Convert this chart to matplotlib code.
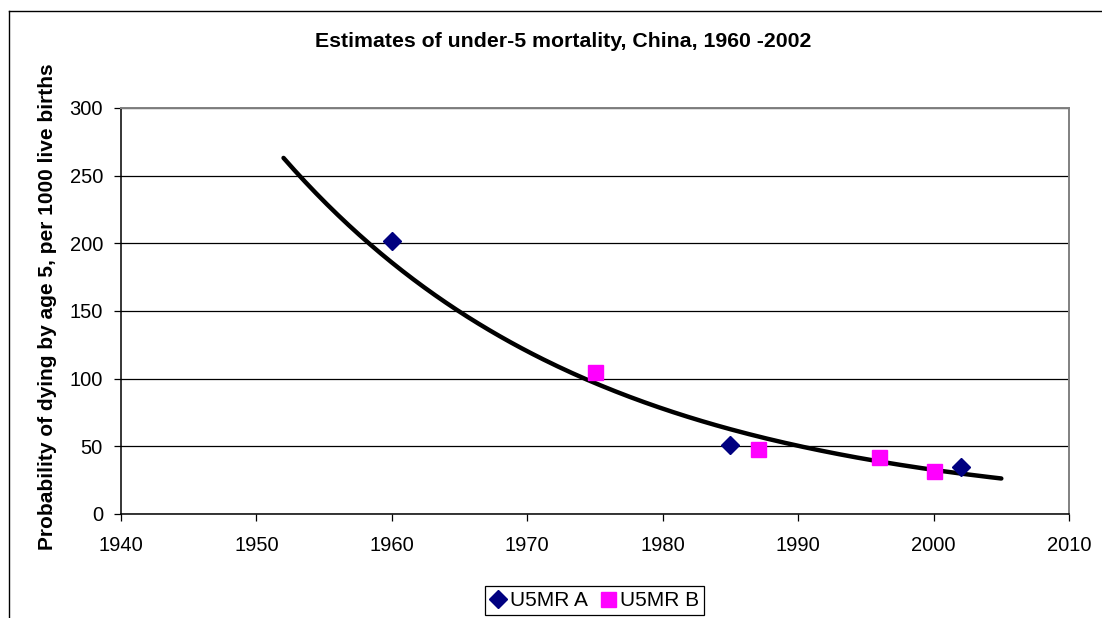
import numpy as np
import matplotlib
matplotlib.use("Agg")
import matplotlib.pyplot as plt
from matplotlib.lines import Line2D

plt.rcParams['font.family'] = ['Liberation Sans', 'DejaVu Sans']

# data
years_a = [1960, 1985, 2002]
u5mr_a = [202, 51, 35]
years_b = [1975, 1987, 1996, 2000]
u5mr_b = [105, 48, 42, 32]

# exponential trendline (Excel style), fitted on both series
trend_start, trend_end = 1952, 2005
all_x = np.array(years_a + years_b, dtype=float)
all_y = np.array(u5mr_a + u5mr_b, dtype=float)
slope, icpt = np.polyfit(all_x, np.log(all_y), 1)
tx = np.linspace(trend_start, trend_end, 200)
ty = np.exp(icpt + slope * tx)

fig = plt.figure(figsize=(11.02, 6.18), dpi=100)
ax = fig.add_axes([0.1098, 0.1683, 0.8603, 0.6570])

ax.plot(tx, ty, color='black', lw=3.2, solid_capstyle='round', zorder=3)
ax.plot(years_a, u5mr_a, 'D', color='#000080', ms=9, ls='none',
        label='U5MR A', zorder=4)
ax.plot(years_b, u5mr_b, 's', color='#FF00FF', ms=10.8, ls='none',
        label='U5MR B', zorder=4)

ax.set_xlim(1940, 2010)
ax.set_ylim(0, 300)
ax.set_xticks(range(1940, 2011, 10))
ax.set_yticks(range(0, 301, 50))
ax.grid(axis='y', color='black', lw=0.9)
ax.tick_params(axis='both', direction='out', length=5, width=0.9,
               labelsize=14.5, color='black')
ax.tick_params(axis='x', pad=11)
ax.tick_params(axis='y', pad=8)

for s in ('top', 'right'):
    ax.spines[s].set_color('#808080')
    ax.spines[s].set_linewidth(1.4)
for s in ('left', 'bottom'):
    ax.spines[s].set_color('black')
    ax.spines[s].set_linewidth(1.1)

fig.text(0.511, 0.924, 'Estimates of under-5 mortality, China, 1960 -2002',
         ha='center', va='baseline', fontsize=15.3, fontweight='bold')
fig.text(0.043, 0.503, 'Probability of dying by age 5, per 1000 live births',
         ha='center', va='center', rotation=90, fontsize=15, fontweight='bold')

leg = fig.legend(loc='center', bbox_to_anchor=(0.5395, 0.0283), ncol=2,
                 fontsize=15, frameon=True, fancybox=False, framealpha=1,
                 edgecolor='black', handlelength=0.8, handletextpad=0.15,
                 columnspacing=0.6, borderpad=0.25, borderaxespad=0)
leg.get_frame().set_linewidth(0.9)

# outer chart border (only left and top visible in the crop)
fig.add_artist(Line2D([0.0086, 0.0086], [0.0, 0.9827], transform=fig.transFigure,
                      color='black', lw=1.0))
fig.add_artist(Line2D([0.0086, 1.0], [0.9827, 0.9827], transform=fig.transFigure,
                      color='black', lw=1.0))

fig.savefig('out.png', dpi=100)
